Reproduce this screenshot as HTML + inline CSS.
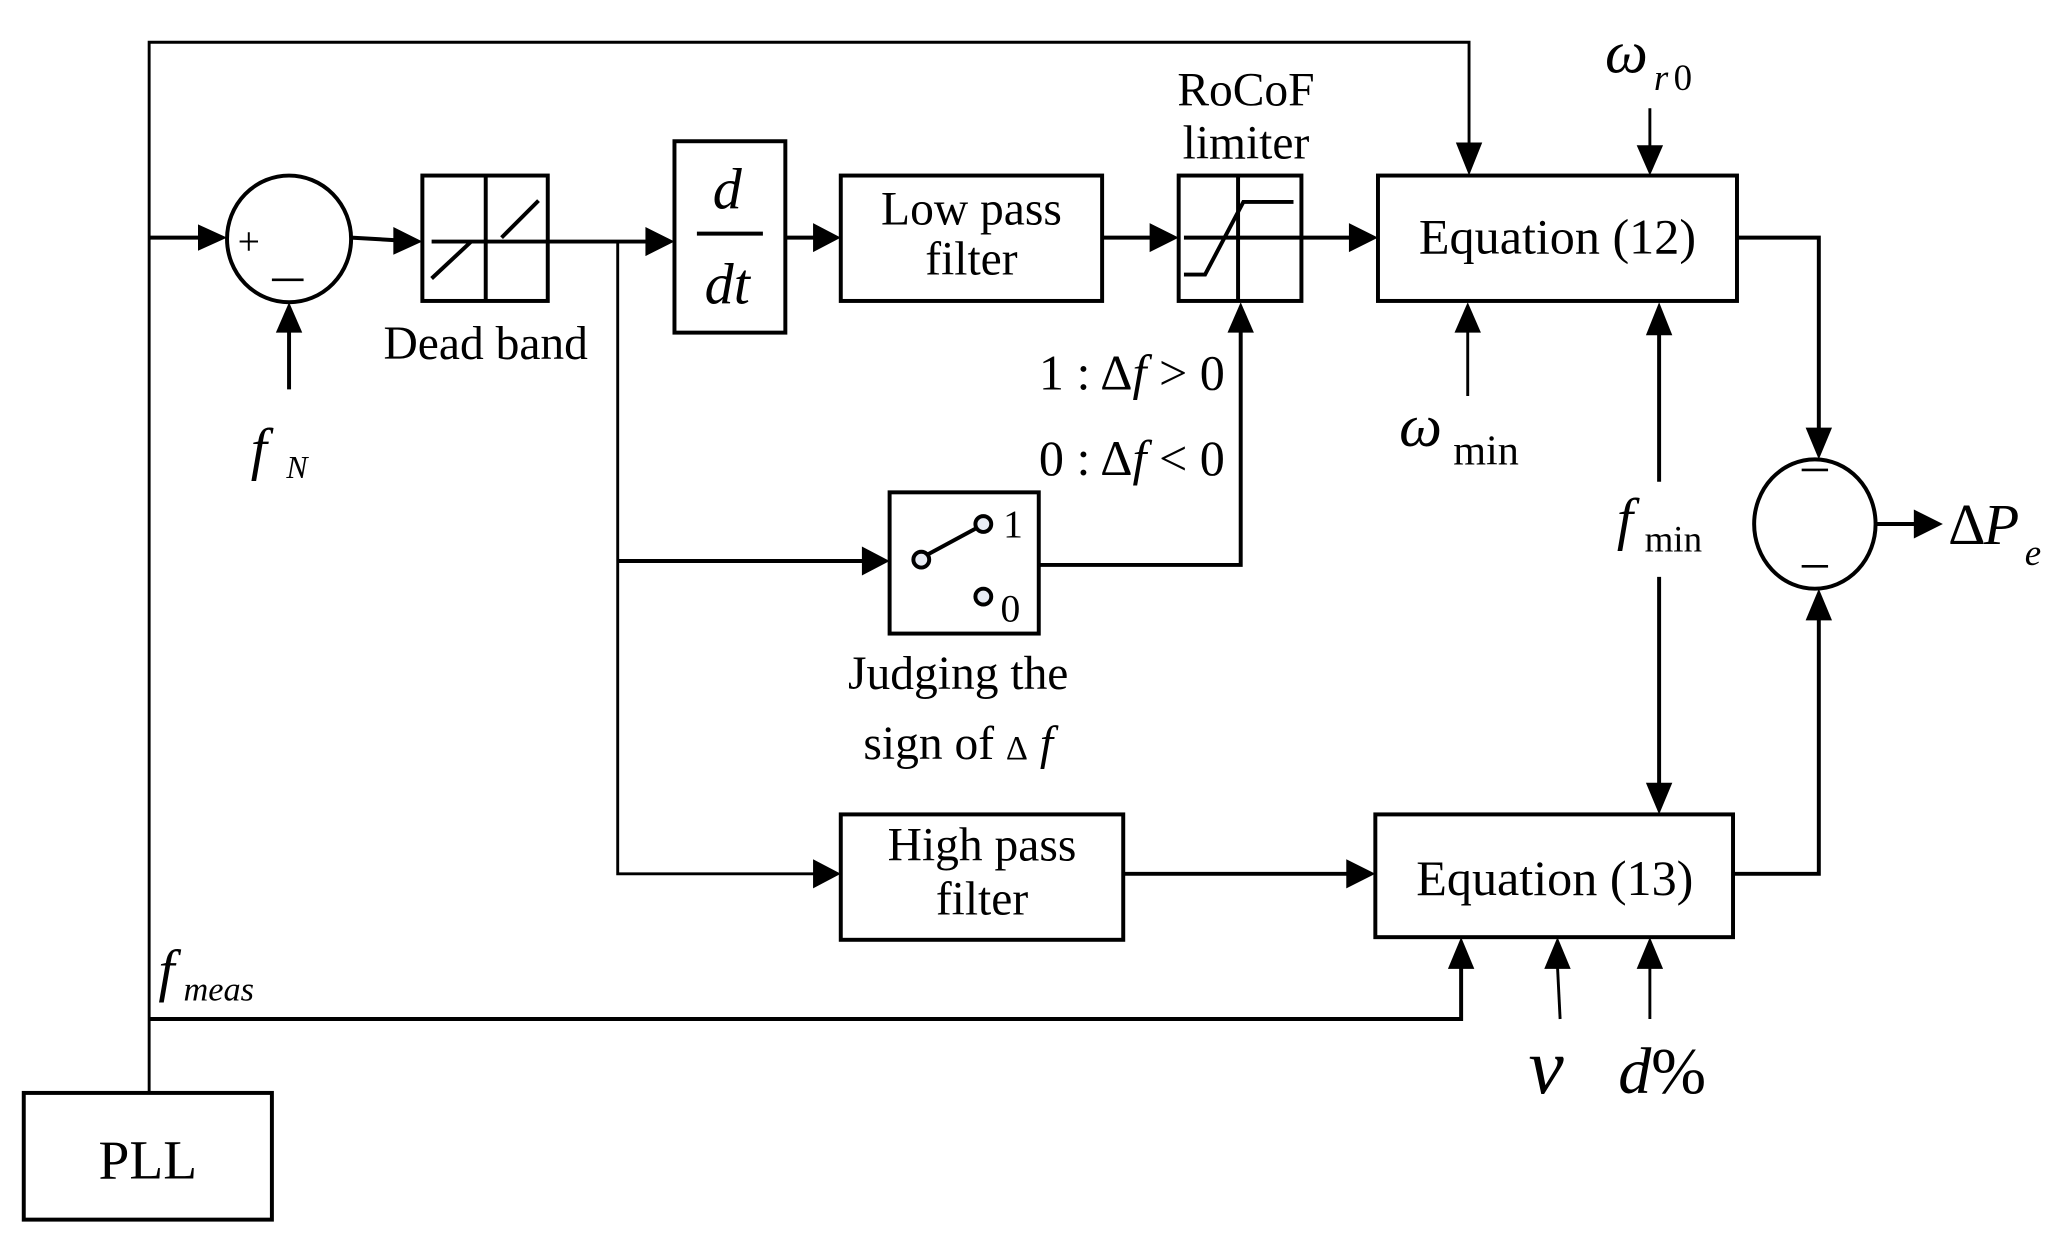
<!DOCTYPE html>
<html><head><meta charset="utf-8"><style>
html,body{margin:0;padding:0;background:#fff;}
svg{display:block;}
text{font-family:"Liberation Serif",serif;fill:#000;}
.i{font-style:italic;}
</style></head><body>
<svg width="2063" height="1236" viewBox="0 0 1563 936.4" preserveAspectRatio="none" xmlns="http://www.w3.org/2000/svg">
<defs>
<marker id="a" viewBox="0 0 10 10" refX="10" refY="5" markerWidth="7" markerHeight="7" markerUnits="userSpaceOnUse" orient="auto"><path d="M0,0 L10,5 L0,10 z" fill="#000"/></marker>
<marker id="b" viewBox="0 0 10 10" refX="10" refY="5" markerWidth="7" markerHeight="7" markerUnits="userSpaceOnUse" orient="auto"><path d="M0,0 L10,5 L0,10 z" fill="#000"/></marker>
</defs>
<style>
.l{stroke:#000;stroke-width:3;fill:none;}
.t{stroke:#000;stroke-width:2.2;fill:none;}
.bx{stroke:#000;stroke-width:3;fill:#fff;}
</style>
<g marker-end="url(#a)">
</g>
<!-- top feedback -->
<polyline class="t" points="113,828 113,32 1113,32 1113,110"/>
<path d="M1103,108 L1113,133 L1123,108 z"/>
<!-- into sum -->
<line class="l" x1="113" y1="180" x2="152" y2="180"/>
<path d="M150,170 L172,180 L150,190 z"/>
<ellipse class="bx" cx="219" cy="181" rx="47" ry="48"/>
<text x="180" y="193" font-size="30">+</text>
<line x1="206" y1="212" x2="230" y2="212" stroke="#000" stroke-width="2"/>
<line class="l" x1="219" y1="295" x2="219" y2="250"/>
<path d="M209,252 L219,229 L229,252 z"/>
<text class="i" x="190" y="355" font-size="44">f</text>
<text class="i" x="217" y="362" font-size="24">N</text>
<!-- sum to deadband -->
<line class="l" x1="266" y1="180" x2="300" y2="182"/>
<path d="M298,172 L320,183 L298,193 z"/>
<rect class="bx" x="320" y="133" width="95" height="95"/>
<line class="l" x1="368" y1="133" x2="368" y2="228"/>
<line class="l" x1="327" y1="183" x2="415" y2="183"/>
<line class="l" x1="327" y1="211" x2="357" y2="183"/>
<line class="l" x1="380" y1="180" x2="408" y2="152"/>
<text x="368" y="272" font-size="36" text-anchor="middle">Dead band</text>
<!-- to ddt -->
<line class="l" x1="415" y1="183" x2="490" y2="183"/>
<path d="M489,172 L511,183 L489,194 z"/>
<polyline class="t" points="468,183 468,662 617,662"/>
<line class="l" x1="468" y1="425" x2="655" y2="425"/>
<path d="M653,414 L674,425 L653,436 z"/>
<rect class="bx" x="511" y="107" width="84" height="145"/>
<text class="i" x="551" y="158" font-size="44" text-anchor="middle">d</text>
<line x1="528" y1="177" x2="578" y2="177" stroke="#000" stroke-width="3"/>
<text class="i" x="551" y="230" font-size="44" text-anchor="middle">dt</text>
<line class="l" x1="595" y1="180" x2="618" y2="180"/>
<path d="M616,169 L637,180 L616,191 z"/>
<rect class="bx" x="637" y="133" width="198" height="95"/>
<text x="736" y="170" font-size="36" text-anchor="middle">Low pass</text>
<text x="736" y="208" font-size="36" text-anchor="middle">filter</text>
<line class="l" x1="835" y1="180" x2="873" y2="180"/>
<path d="M871,169 L893,180 L871,191 z"/>
<rect class="bx" x="893" y="133" width="93" height="95"/>
<line class="l" x1="938" y1="133" x2="938" y2="228"/>
<line class="l" x1="897" y1="180" x2="986" y2="180"/>
<polyline class="l" points="897,208 913,208 942,153 980,153"/>
<text x="944" y="80" font-size="36" text-anchor="middle">RoCoF</text>
<text x="944" y="120" font-size="36" text-anchor="middle">limiter</text>
<line class="l" x1="986" y1="180" x2="1024" y2="180"/>
<path d="M1022,169 L1044,180 L1022,191 z"/>
<rect class="bx" x="1044" y="133" width="272" height="95"/>
<text x="1180" y="192" font-size="38" text-anchor="middle">Equation (12)</text>
<text class="i" x="1216" y="55" font-size="46">ω</text>
<text class="i" x="1253" y="68" font-size="28">r</text>
<text x="1268" y="68" font-size="28">0</text>
<line class="t" x1="1250" y1="82" x2="1250" y2="112"/>
<path d="M1240,110 L1250,133 L1260,110 z"/>
<line class="t" x1="1112" y1="300" x2="1112" y2="250"/>
<path d="M1102,252 L1112,229 L1122,252 z"/>
<text class="i" x="1060" y="338" font-size="46">ω</text>
<text x="1101" y="352" font-size="32">min</text>
<!-- fmin -->
<line class="l" x1="1257" y1="365" x2="1257" y2="252"/>
<path d="M1247,254 L1257,229 L1267,254 z"/>
<text class="i" x="1225" y="408" font-size="44">f</text>
<text x="1246" y="418" font-size="28">min</text>
<line class="l" x1="1257" y1="437" x2="1257" y2="596"/>
<path d="M1247,593 L1257,617 L1267,593 z"/>
<!-- eq12 to circle -->
<polyline class="l" points="1316,180 1378,180 1378,326"/>
<path d="M1368,324 L1378,348 L1388,324 z"/>
<ellipse class="bx" cx="1375" cy="397" rx="46" ry="49"/>
<line x1="1365" y1="356" x2="1385" y2="356" stroke="#000" stroke-width="2"/>
<line x1="1365" y1="429" x2="1385" y2="429" stroke="#000" stroke-width="2"/>
<line class="l" x1="1421" y1="397" x2="1452" y2="397"/>
<path d="M1450,386 L1472,397 L1450,408 z"/>
<text x="1476" y="412" font-size="44">Δ</text>
<text class="i" x="1503" y="412" font-size="44">P</text>
<text class="i" x="1534" y="428" font-size="28">e</text>
<!-- switch -->
<rect class="bx" x="674" y="373" width="113" height="107"/>
<circle cx="698" cy="424" r="6" fill="#e8ecf4" stroke="#000" stroke-width="3"/>
<line class="l" x1="703" y1="420" x2="740" y2="400"/>
<circle cx="745" cy="397" r="6" fill="#e8ecf4" stroke="#000" stroke-width="3"/>
<circle cx="745" cy="452" r="6" fill="#e8ecf4" stroke="#000" stroke-width="3"/>
<text x="760" y="407" font-size="30">1</text>
<text x="758" y="471" font-size="30">0</text>
<polyline class="l" points="787,428 940,428 940,250"/>
<path d="M930,252 L940,229 L950,252 z"/>
<text x="928" y="295" font-size="38" text-anchor="end">1 : Δ<tspan class="i">f</tspan> &gt; 0</text>
<text x="928" y="360" font-size="38" text-anchor="end">0 : Δ<tspan class="i">f</tspan> &lt; 0</text>
<text x="726" y="522" font-size="36" text-anchor="middle">Judging the</text>
<text x="726" y="575" font-size="36" text-anchor="middle">sign of <tspan font-size="26">Δ</tspan><tspan class="i"> f</tspan></text>
<!-- HPF -->
<path d="M616,651 L637,662 L616,673 z"/>
<rect class="bx" x="637" y="617" width="214" height="95"/>
<text x="744" y="652" font-size="36" text-anchor="middle">High pass</text>
<text x="744" y="693" font-size="36" text-anchor="middle">filter</text>
<line class="l" x1="851" y1="662" x2="1022" y2="662"/>
<path d="M1020,651 L1042,662 L1020,673 z"/>
<rect class="bx" x="1042" y="617" width="271" height="93"/>
<text x="1178" y="678" font-size="38" text-anchor="middle">Equation (13)</text>
<polyline class="l" points="1313,662 1378,662 1378,468"/>
<path d="M1368,470 L1378,446 L1388,470 z"/>
<!-- fmeas -->
<polyline class="l" points="113,772 1107,772 1107,732"/>
<path d="M1097,734 L1107,710 L1117,734 z"/>
<text class="i" x="120" y="750" font-size="44">f</text>
<text class="i" x="139" y="758" font-size="26">meas</text>
<line class="t" x1="1182" y1="772" x2="1180" y2="732"/>
<path d="M1170,734 L1180,710 L1190,734 z"/>
<line class="t" x1="1250" y1="772" x2="1250" y2="732"/>
<path d="M1240,734 L1250,710 L1260,734 z"/>
<text class="i" x="1158" y="828" font-size="60">v</text>
<text class="i" x="1226" y="828" font-size="50">d<tspan font-style="normal">%</tspan></text>
<!-- PLL -->
<rect class="bx" x="18" y="828" width="188" height="96"/>
<text x="112" y="893" font-size="42" text-anchor="middle">PLL</text>
</svg>
</body></html>
